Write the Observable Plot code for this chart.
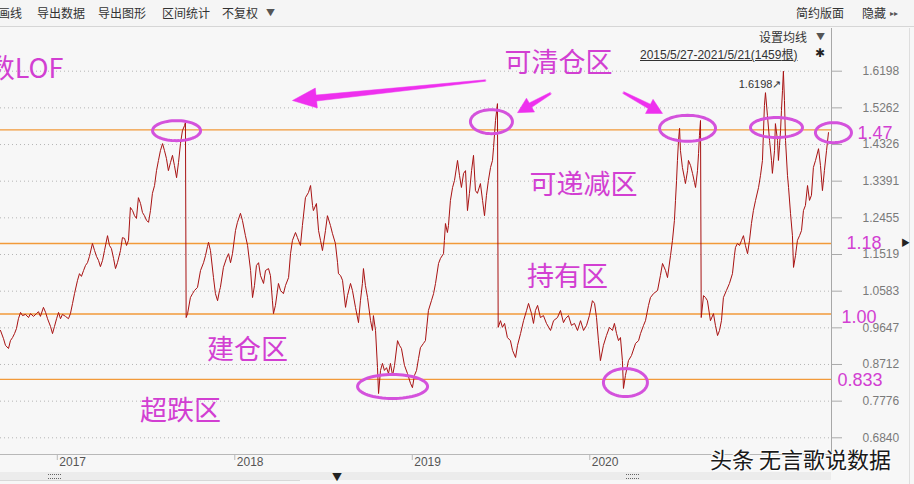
<!DOCTYPE html>
<html><head><meta charset="utf-8">
<script src="https://cdn.jsdelivr.net/npm/d3@7"></script>
<script src="https://cdn.jsdelivr.net/npm/@observablehq/plot@0.6"></script>
<style>
body{margin:0;background:#f7f7f7;font-family:"Noto Sans CJK SC",sans-serif;}
#wrap{position:relative;width:914px;height:484px;overflow:hidden;background:#f7f7f7}
#hdr{position:relative;height:27px;background:#f5f5f5;border-bottom:1px solid #d6d6d6;box-sizing:border-box}
.h{position:absolute;top:5px;font-size:12px;color:#333;line-height:16px;white-space:nowrap}
.ov{position:absolute;white-space:nowrap}
</style></head><body>
<div id="wrap">
 <div id="hdr">
  <span class="h" style="left:-2px">画线</span>
  <span class="h" style="left:37px">导出数据</span>
  <span class="h" style="left:98px">导出图形</span>
  <span class="h" style="left:162px">区间统计</span>
  <span class="h" style="left:222px">不复权</span>
  <span class="h" style="left:266px;font-size:9px;color:#555">▼</span>
  <span class="h" style="left:796px">简约版面</span>
  <span class="h" style="left:862px">隐藏</span>
  <span class="h" style="left:890px;font-size:8px;color:#555">▸▸</span>
 </div>
 <div id="chart"></div>
 <div class="ov" style="left:759px;top:28px;font-size:12px;color:#333">设置均线</div>
 <div class="ov" style="left:816px;top:30px;font-size:9px;color:#555">▼</div>
 <div class="ov" style="left:640px;top:45px;font-size:12px;color:#333;text-decoration:underline;font-family:'Liberation Sans',sans-serif">2015/5/27-2021/5/21(1459<span style="font-family:'Noto Sans CJK SC'">根</span>)</div>
 <div class="ov" style="left:815px;top:43px;font-size:12px;color:#222">✱</div>
 <div class="ov" style="left:909px;top:28px;width:1px;height:456px;background:#dedede"></div>
 <div class="ov" style="left:901px;top:236px;font-size:9px;color:#222">▶</div>
 <div class="ov" style="left:0;top:472px;width:831px;height:8px;background:#ececec"></div>
 <div class="ov" style="left:48px;top:474px;width:13px;height:3px;border-top:1px dotted #666;border-bottom:1px dotted #666"></div>
 <div class="ov" style="left:626px;top:474px;width:13px;height:3px;border-top:1px dotted #666;border-bottom:1px dotted #666"></div>
 <div class="ov" style="left:332px;top:469px;font-size:10px;color:#222">▼</div>
 <div class="ov" style="left:0;top:480px;width:300px;height:4px;border-top:1px solid #d8d8d8"></div>
 <div class="ov" style="left:710px;top:442px;font-size:22px;color:#1a1a1a;text-shadow:0 0 2px #fff,0 0 2px #fff,1px 1px 0 #fff,-1px -1px 0 #fff">头条 无言歌说数据</div>
</div>
<script>
// ---- data (decimal year, NAV) ----
const seg2016 = [[2016.680,0.958],[2016.697,0.937],[2016.708,0.920],[2016.725,0.912],[2016.736,0.932],[2016.748,0.940],[2016.759,0.950],[2016.770,0.963],[2016.781,0.988],[2016.793,1.004],[2016.804,0.996],[2016.821,0.999],[2016.838,0.991],[2016.849,1.001],[2016.866,0.994],[2016.883,1.001],[2016.894,1.006],[2016.905,0.994],[2016.922,1.017],[2016.934,1.004],[2016.945,0.988],[2016.962,0.968],[2016.973,0.950],[2016.984,0.968],[2016.996,0.988]];
const seg2017a = [[2017.007,1.004],[2017.018,0.988],[2017.029,0.999],[2017.046,0.994],[2017.063,0.988],[2017.074,1.001],[2017.086,1.027],[2017.097,1.052],[2017.114,1.086],[2017.125,1.103],[2017.136,1.096],[2017.148,1.111],[2017.159,1.124],[2017.170,1.131],[2017.181,1.147],[2017.198,1.180],[2017.210,1.162],[2017.221,1.147],[2017.232,1.137],[2017.243,1.121],[2017.255,1.137],[2017.266,1.162],[2017.283,1.200],[2017.294,1.175],[2017.305,1.167],[2017.317,1.142],[2017.328,1.116],[2017.339,1.131],[2017.356,1.162],[2017.367,1.195],[2017.379,1.193],[2017.390,1.175],[2017.401,1.188],[2017.412,1.272],[2017.424,1.264],[2017.435,1.251],[2017.446,1.244],[2017.457,1.297],[2017.469,1.282],[2017.480,1.259],[2017.491,1.251],[2017.503,1.239],[2017.514,1.234],[2017.525,1.264],[2017.536,1.308],[2017.548,1.328],[2017.559,1.366],[2017.570,1.392],[2017.581,1.417],[2017.593,1.435],[2017.604,1.417],[2017.615,1.397],[2017.626,1.366],[2017.638,1.387],[2017.649,1.405],[2017.660,1.379],[2017.672,1.348],[2017.683,1.387],[2017.694,1.435],[2017.705,1.468],[2017.717,1.481],[2017.722,1.489]];
const seg2017b = [[2017.726,0.991],[2017.734,1.001],[2017.750,1.042],[2017.762,1.052],[2017.773,1.060],[2017.790,1.068],[2017.807,1.111],[2017.824,1.131],[2017.835,1.149],[2017.846,1.172],[2017.852,1.183],[2017.863,1.162],[2017.880,1.093],[2017.891,1.052],[2017.903,1.034],[2017.914,1.060],[2017.919,1.068],[2017.936,1.119],[2017.953,1.142],[2017.965,1.154],[2017.976,1.131],[2017.987,1.154],[2018.004,1.213],[2018.015,1.234],[2018.032,1.257],[2018.043,1.239],[2018.060,1.200],[2018.072,1.175],[2018.089,1.111],[2018.100,1.042],[2018.111,1.073],[2018.122,1.124],[2018.134,1.131],[2018.145,1.098],[2018.162,1.078],[2018.173,1.111],[2018.190,1.116],[2018.201,1.098],[2018.212,1.034],[2018.218,1.001],[2018.229,1.022],[2018.246,1.078],[2018.258,1.060],[2018.274,1.052],[2018.286,1.073],[2018.303,1.093],[2018.314,1.154],[2018.325,1.188],[2018.342,1.208],[2018.353,1.195],[2018.370,1.175]];
const seg2018 = [[2018.381,1.226],[2018.398,1.297],[2018.415,1.310],[2018.427,1.328],[2018.438,1.277],[2018.443,1.264],[2018.460,1.282],[2018.472,1.213],[2018.483,1.188],[2018.494,1.162],[2018.511,1.213],[2018.522,1.251],[2018.539,1.226],[2018.550,1.206],[2018.567,1.180],[2018.579,1.131],[2018.584,1.103],[2018.596,1.098],[2018.607,1.086],[2018.624,1.017],[2018.635,1.047],[2018.652,1.078],[2018.663,1.060],[2018.680,1.017],[2018.697,0.978],[2018.708,1.034],[2018.719,1.078],[2018.725,1.116],[2018.736,1.073],[2018.748,1.042],[2018.765,0.983],[2018.776,0.958],[2018.781,0.996],[2018.793,0.958],[2018.804,0.863],[2018.810,0.797],[2018.821,0.856],[2018.832,0.874],[2018.843,0.856],[2018.855,0.863],[2018.866,0.848],[2018.877,0.874],[2018.889,0.843],[2018.900,0.869],[2018.917,0.932],[2018.928,0.920],[2018.939,0.912],[2018.956,0.869],[2018.973,0.848],[2018.990,0.823]];
const seg2019a = [[2019.001,0.812],[2019.012,0.843],[2019.024,0.856],[2019.035,0.886],[2019.046,0.914],[2019.063,0.925],[2019.074,0.932],[2019.091,1.009],[2019.108,1.034],[2019.120,1.052],[2019.131,1.078],[2019.148,1.129],[2019.159,1.142],[2019.176,1.154],[2019.181,1.188],[2019.187,1.231],[2019.198,1.208],[2019.204,1.226],[2019.215,1.290],[2019.227,1.323],[2019.238,1.341],[2019.255,1.392],[2019.266,1.354],[2019.277,1.323],[2019.289,1.359],[2019.300,1.366],[2019.311,1.264],[2019.322,1.308],[2019.334,1.366],[2019.345,1.405],[2019.356,1.315],[2019.367,1.308],[2019.384,1.333],[2019.396,1.290],[2019.407,1.251],[2019.418,1.303],[2019.429,1.341],[2019.441,1.374],[2019.452,1.392],[2019.458,1.425],[2019.469,1.494],[2019.480,1.537]];
const seg2019b = [[2019.484,0.966],[2019.497,0.983],[2019.508,0.966],[2019.520,0.976],[2019.536,0.940],[2019.553,0.932],[2019.565,0.907],[2019.582,0.889],[2019.593,0.920],[2019.610,0.950],[2019.627,0.983],[2019.644,1.009],[2019.655,1.027],[2019.672,1.001],[2019.683,0.976],[2019.694,1.009],[2019.706,1.022],[2019.722,0.991],[2019.739,0.996],[2019.756,0.976],[2019.779,0.958],[2019.796,0.983],[2019.818,0.991],[2019.835,1.009],[2019.852,0.978],[2019.863,0.988],[2019.880,0.996],[2019.897,0.971],[2019.914,0.976],[2019.931,0.958],[2019.948,0.983],[2019.965,0.958],[2019.982,0.971],[2019.998,0.996]];
const seg2020a = [[2020.015,1.034],[2020.027,1.027],[2020.038,0.991],[2020.049,0.932],[2020.060,0.881],[2020.077,0.920],[2020.094,0.945],[2020.111,0.966],[2020.128,0.958],[2020.139,0.976],[2020.151,0.950],[2020.162,0.932],[2020.173,0.940],[2020.184,0.881],[2020.190,0.810],[2020.201,0.843],[2020.218,0.881],[2020.235,0.894],[2020.258,0.925],[2020.275,0.932],[2020.286,0.950],[2020.303,0.971],[2020.314,0.983],[2020.331,1.022],[2020.342,1.042],[2020.359,1.052],[2020.382,1.060],[2020.398,1.098],[2020.410,1.129],[2020.427,1.111],[2020.438,1.093],[2020.455,1.149],[2020.466,1.188],[2020.477,1.239],[2020.483,1.290],[2020.489,1.341],[2020.494,1.392],[2020.500,1.443],[2020.506,1.474],[2020.511,1.417],[2020.522,1.374],[2020.534,1.346],[2020.539,1.333],[2020.551,1.366],[2020.556,1.392],[2020.568,1.379],[2020.579,1.359],[2020.590,1.336],[2020.596,1.323],[2020.607,1.366],[2020.613,1.410],[2020.618,1.456],[2020.624,1.494]];
const seg2020b = [[2020.628,0.991],[2020.641,1.047],[2020.652,1.042],[2020.663,1.034],[2020.680,0.983],[2020.697,1.001],[2020.708,0.971],[2020.720,0.945],[2020.731,0.958],[2020.742,0.983],[2020.753,1.042],[2020.770,1.060],[2020.787,1.078],[2020.804,1.103],[2020.815,1.149],[2020.821,1.170],[2020.832,1.180],[2020.844,1.175],[2020.855,1.188],[2020.866,1.200],[2020.877,1.175],[2020.889,1.154],[2020.900,1.188],[2020.911,1.231],[2020.922,1.264],[2020.934,1.290],[2020.951,1.323],[2020.962,1.354],[2020.973,1.392],[2020.979,1.468],[2020.984,1.532],[2020.990,1.565]];
const seg2021 = [[2021.001,1.507],[2021.013,1.443],[2021.024,1.392],[2021.029,1.359],[2021.041,1.417],[2021.046,1.486],[2021.058,1.443],[2021.063,1.392],[2021.069,1.430],[2021.075,1.468],[2021.080,1.519],[2021.086,1.571],[2021.091,1.6198],[2021.097,1.545],[2021.103,1.443],[2021.114,1.354],[2021.120,1.323],[2021.131,1.257],[2021.142,1.200],[2021.148,1.119],[2021.159,1.149],[2021.170,1.188],[2021.182,1.200],[2021.193,1.213],[2021.204,1.264],[2021.215,1.277],[2021.227,1.328],[2021.238,1.290],[2021.249,1.303],[2021.260,1.374],[2021.272,1.392],[2021.289,1.422],[2021.300,1.379],[2021.311,1.315],[2021.322,1.366],[2021.334,1.417],[2021.345,1.463]];

const yTickValues = [1.6198,1.5262,1.4326,1.3391,1.2455,1.1519,1.0583,0.9647,0.8712,0.7776,0.6840];
const yearTicks = [2017,2018,2019,2020];
const zoneLevels = [1.47,1.18,1.00,0.833];
const zoneLevelLabels = ["1.47","1.18","1.00","0.833"];
const zoneLevelLabelAt = [[2021.508,1.462],[2021.446,1.180],[2021.418,0.991],[2021.396,0.830]];
const zoneNames = ["可清仓区","可递减区","持有区","建仓区","超跌区"];
const zoneNameAt = [[2019.824,1.639],[2019.965,1.328],[2019.874,1.093],[2018.072,0.907],[2017.694,0.751]];
const fundName = "指数LOF";
const fundNameAt = [2017.035,1.624];
const circleCenters = [[2017.672,1.468],[2019.446,1.491],[2020.551,1.474],[2021.052,1.476],[2021.373,1.463],[2018.889,0.815],[2020.201,0.825]];
const arrowTails = [[2019.412,1.596],[2019.779,1.563],[2020.190,1.565]];
const arrowTips  = [[2018.325,1.545],[2019.593,1.514],[2020.410,1.512]];

// ---- styles / sizes (pixels) ----
const circleSizes = [[24,10],[21,12],[28,13],[26,10],[18,10],[35,12],[22,14]];
const arrowSizes = [{head:24,hw:10,w0:1.5,w1:6},{head:15,hw:8,w0:2,w1:5},{head:15,hw:8,w0:2,w1:5}];
const W=914,H=457,mL=0,mR=83,mT=1,mB=30;
const xDomain=[2016.680,2021.362], yDomain=[0.6414,1.7288];
const kx=(W-mL-mR)/(xDomain[1]-xDomain[0]);
const ky=(H-mT-mB)/(yDomain[1]-yDomain[0]);

const series=[...seg2016,...seg2017a,...seg2017b,...seg2018,...seg2019a,...seg2019b,...seg2020a,...seg2020b,...seg2021];
const maxPt=series.reduce((a,b)=>b[1]>a[1]?b:a);

const ellipsePts=[];
circleCenters.forEach((c,i)=>{
  const [rx,ry]=circleSizes[i];
  for(let k=0;k<64;k++){const t=2*Math.PI*k/64;ellipsePts.push({x:c[0]+rx*Math.cos(t)/kx,y:c[1]+ry*Math.sin(t)/ky,id:i});}
});
const arrowPts=[];
arrowTails.forEach((tail,i)=>{
  const tip=arrowTips[i], s=arrowSizes[i];
  const dx=(tip[0]-tail[0])*kx, dy=-(tip[1]-tail[1])*ky;
  const L=Math.hypot(dx,dy), ux=dx/L, uy=dy/L, nx=-uy, ny=ux;
  const P=(al,ac)=>({x:tail[0]+(ux*al+nx*ac)/kx,y:tail[1]-(uy*al+ny*ac)/ky,id:i});
  const b=L-s.head;
  arrowPts.push(P(0,s.w0/2),P(b,s.w1/2),P(b,s.hw),P(L,0),P(b,-s.hw),P(b,-s.w1/2),P(0,-s.w0/2));
});

const magenta="#d23fd2";
const plot=Plot.plot({
  width:W,height:H,marginLeft:mL,marginRight:mR,marginTop:mT,marginBottom:mB,
  x:{domain:xDomain,axis:null},
  y:{domain:yDomain,axis:null},
  style:{background:"#f7f7f7",overflow:"visible"},
  marks:[
    Plot.ruleY(yTickValues,{stroke:"#b5b5b5",strokeDasharray:"1,3"}),
    Plot.ruleY(zoneLevels,{stroke:"#f29a3a",strokeWidth:1.3}),
    Plot.line(series,{x:d=>d[0],y:d=>d[1],stroke:"#a81212",strokeWidth:1}),
    Plot.ruleX([xDomain[1]],{stroke:"#a8a8a8"}),
    Plot.ruleY(yTickValues,{stroke:"#aaaaaa",insetLeft:W-mL-mR,insetRight:-11}),
    Plot.text(yTickValues,{y:d=>d,text:d=>d.toFixed(4),frameAnchor:"right",dx:31,textAnchor:"start",fill:"#7a7a7a",fontSize:12,fontFamily:"Liberation Sans"}),
    Plot.ruleY([yDomain[0]],{stroke:"#b8b8b8"}),
    Plot.ruleX(yearTicks,{stroke:"#b8b8b8",insetTop:H-mT-mB,insetBottom:-6}),
    Plot.text(yearTicks,{x:d=>d,text:d=>String(d),frameAnchor:"bottom",textAnchor:"start",lineAnchor:"top",dx:2,dy:3,fill:"#555",fontSize:12,fontFamily:"Liberation Sans"}),
    Plot.text([maxPt],{x:d=>d[0],y:d=>d[1],text:d=>d[1].toFixed(4)+"↗",textAnchor:"end",dx:-2,dy:13,fill:"#333",fontSize:11,fontFamily:"Liberation Sans"}),
    Plot.line(ellipsePts,{x:"x",y:"y",z:"id",curve:"linear-closed",stroke:"#d452dc",strokeWidth:3,fill:"none"}),
    Plot.line(arrowPts,{x:"x",y:"y",z:"id",curve:"linear-closed",fill:"#ee30ee",stroke:"#ee30ee",strokeWidth:0.5}),
    Plot.text(zoneNames,{x:(d,i)=>zoneNameAt[i][0],y:(d,i)=>zoneNameAt[i][1],text:d=>d,fill:magenta,fontSize:27,fontFamily:"Noto Sans CJK SC"}),
    Plot.text([fundName],{x:fundNameAt[0],y:fundNameAt[1],text:d=>d,textAnchor:"end",fill:magenta,fontSize:27,fontFamily:"Noto Sans CJK SC"}),
    Plot.text(zoneLevelLabels,{x:(d,i)=>zoneLevelLabelAt[i][0],y:(d,i)=>zoneLevelLabelAt[i][1],text:d=>d,textAnchor:"start",fill:magenta,fontSize:18,fontFamily:"Liberation Sans"})
  ]
});
document.getElementById("chart").appendChild(plot);
</script>
</body></html>
